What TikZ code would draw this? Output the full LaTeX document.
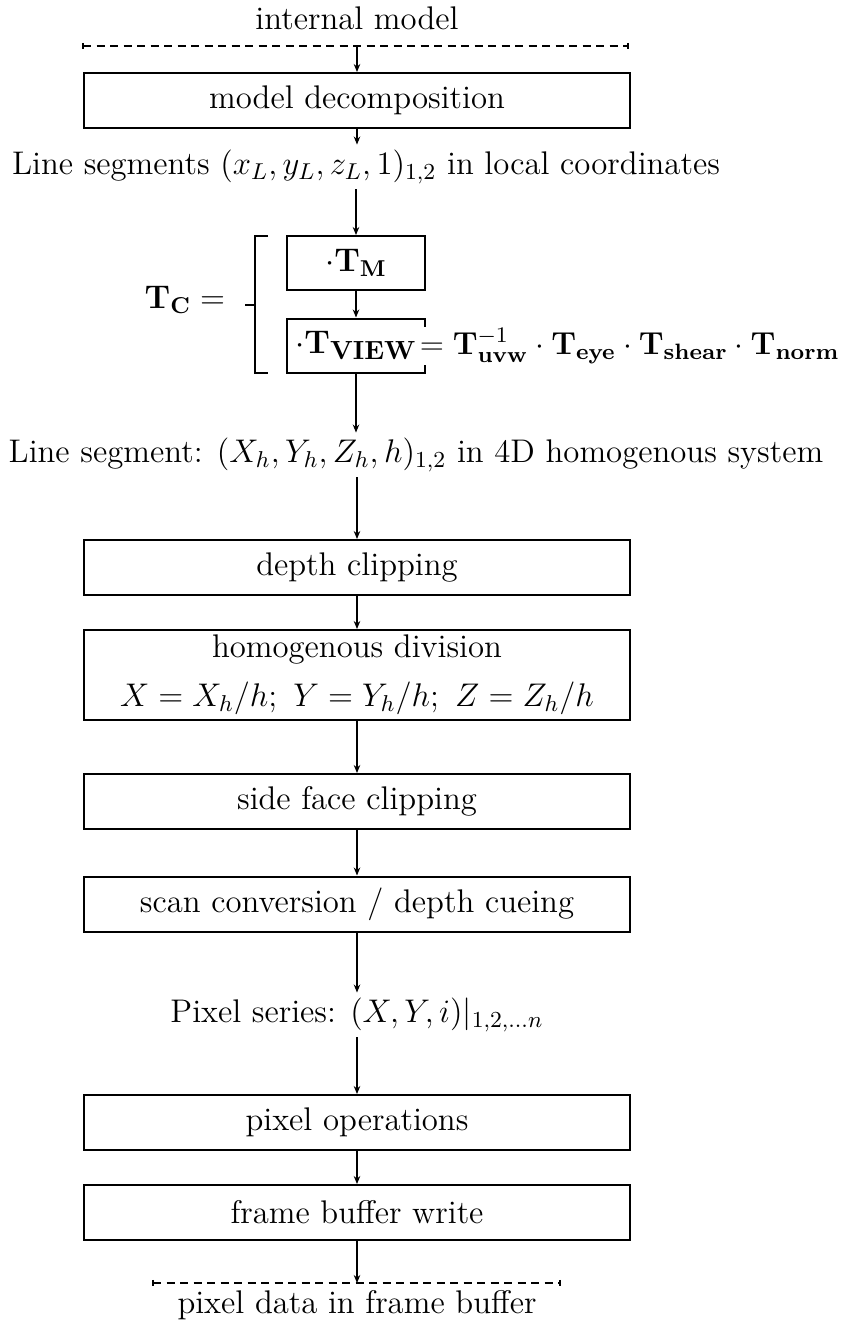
\RequirePackage{fix-cm}
\documentclass[tikz,border=0pt]{standalone}
\usetikzlibrary{arrows.meta}
\begin{document}
\begin{tikzpicture}[x=0.4pt,y=-0.4pt,
  every node/.style={font=\fontsize{13.1pt}{15.7pt}\selectfont},
  box/.style={draw, line width=0.8pt, minimum width=218pt, minimum height=22pt, inner sep=0pt},
  sbox/.style={draw, line width=0.8pt, minimum width=55.2pt, minimum height=21.6pt, inner sep=0pt},
  arr/.style={line width=0.5pt, -{Stealth[length=3.2pt,width=2.6pt]}},
  lbl/.style={inner sep=2pt},
  tick/.style={line width=0.5pt},
  dline/.style={line width=0.5pt, dash pattern=on 3.2pt off 2.2pt}]
\useasboundingbox (0,0) rectangle (841,1327);
% top
\node[lbl] (im) at (357,18) {internal model};
\coordinate (imL) at (83,46);
\coordinate (imR) at (628,46);
\coordinate (imC) at (357,46);
\draw[dline] (imL) -- (imR);
\draw[tick] ([yshift=1.3pt]imL) -- ([yshift=-1.3pt]imL);
\draw[tick] ([yshift=1.3pt]imR) -- ([yshift=-1.3pt]imR);
\node[box] (md) at (357,100.5) {model decomposition};
\draw[arr] (imC) -- (md.north);
\node[lbl] (ls1) at (366,167) {Line segments $(x_L,y_L,z_L,1)_{1,2}$ in local coordinates};
\draw[arr] (md.south) -- (md.south |- ls1.north);
% TC block
\node[sbox] (tm) at (356,263) {$\cdot\mathbf{T}_{\mathbf{M}}$};
\node[sbox] (tv) at (356,345.5) {$\cdot\mathbf{T}_{\mbox{\fontsize{10.5pt}{12pt}\selectfont\bfseries VIEW}}$};
\node[anchor=west, fill=white, inner sep=0.5pt, font=\fontsize{12.7pt}{15pt}\selectfont] (eq) at (418,346) {$=\mathbf{T}^{-1}_{\mathbf{uvw}}\cdot\mathbf{T}_{\mathbf{eye}}\cdot\mathbf{T}_{\mathbf{shear}}\cdot\mathbf{T}_{\mathbf{norm}}$};
\draw[arr] (tm.north |- ls1.south) -- (tm.north);
\draw[arr] (tm.south) -- (tv.north);
\draw[line width=0.8pt] (268,236) -- (255,236) -- (255,373) -- (268,373);
\coordinate (brk) at (255,305);
\draw[line width=0.8pt] (brk) -- ++(-10,0);
\node[anchor=east] (tc) at (234,300) {$\mathbf{T}_{\mathbf{C}}=$};
\node[lbl] (ls2) at (416,455) {Line segment: $(X_h,Y_h,Z_h,h)_{1,2}$ in 4D homogenous system};
\draw[arr] (tv.south) -- (tv.south |- ls2.north);
% main chain
\node[box] (dc) at (357,567.5) {depth clipping};
\draw[arr] (dc.north |- ls2.south) -- (dc.north);
\node[box, minimum height=36pt, align=center] (hd) at (357,675) {homogenous division\\[4pt] $X=X_h/h;\ Y=Y_h/h;\ Z=Z_h/h$};
\draw[arr] (dc.south) -- (hd.north);
\node[box] (sf) at (357,801.5) {side face clipping};
\draw[arr] (hd.south) -- (sf.north);
\node[box] (sc) at (357,904) {scan conversion / depth cueing};
\draw[arr] (sf.south) -- (sc.north);
\node[lbl] (ps) at (357,1015) {Pixel series: $(X,Y,i)|_{1,2,\ldots n}$};
\draw[arr] (sc.south) -- (sc.south |- ps.north);
\node[box] (po) at (357,1122.5) {pixel operations};
\draw[arr] (po.north |- ps.south) -- (po.north);
\node[box] (fb) at (357,1212.5) {frame buffer write};
\draw[arr] (po.south) -- (fb.north);
\coordinate (pdL) at (153,1283);
\coordinate (pdR) at (560,1283);
\coordinate (pdC) at (357,1283);
\draw[dline] (pdL) -- (pdR);
\draw[tick] ([yshift=1.3pt]pdL) -- ([yshift=-1.3pt]pdL);
\draw[tick] ([yshift=1.3pt]pdR) -- ([yshift=-1.3pt]pdR);
\draw[arr] (fb.south) -- (pdC);
\node[lbl] (pd) at (357,1305) {pixel data in frame buffer};
\end{tikzpicture}
\end{document}
